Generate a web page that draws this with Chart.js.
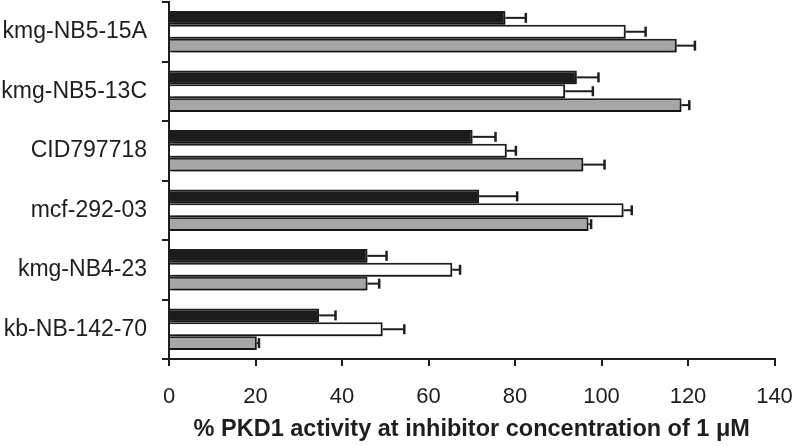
<!DOCTYPE html>
<html>
<head>
<meta charset="utf-8">
<script src="https://cdn.jsdelivr.net/npm/chart.js@4.4.0/dist/chart.umd.min.js"></script>
<style>
	html, body { margin: 0; padding: 0; background: #fff; }
	#wrap { width: 794px; height: 446px; position: relative; }
</style>
</head>
<body>
<div id="wrap"><canvas id="pkd1_chart"></canvas></div>
<script>
const categories = ['kmg-NB5-15A', 'kmg-NB5-13C', 'CID797718', 'mcf-292-03', 'kmg-NB4-23', 'kb-NB-142-70'];

const black_values = [77.8, 94.3, 70.2, 71.7, 45.9, 34.7];
const black_err = [4.7, 5.0, 5.3, 8.8, 4.4, 3.8];

const white_values = [105.6, 91.6, 78.1, 105.1, 65.5, 49.4];
const white_err = [4.6, 6.4, 2.1, 1.9, 1.8, 5.0];

const gray_values = [117.4, 118.5, 95.8, 97.0, 45.9, 20.3];
const gray_err = [4.2, 1.8, 4.9, 0.6, 2.7, 0.5];

const x_ticks = [0, 20, 40, 60, 80, 100, 120, 140];

const ink = '#1e1e1e';

// soft drop shadow under the bars
const shadowPlugin = {
	id: 'barShadow',
	beforeDatasetsDraw(chart) {
		const ctx = chart.ctx;
		ctx.save();
		ctx.shadowColor = 'rgba(0, 0, 0, 0.4)';
		ctx.shadowBlur = 5;
		ctx.shadowOffsetX = 2;
		ctx.shadowOffsetY = 4;
	},
	afterDatasetsDraw(chart) {
		chart.ctx.restore();
	}
};

// one-sided error bars with caps
const errorPlugin = {
	id: 'errorBars',
	afterDatasetsDraw(chart) {
		const ctx = chart.ctx;
		const xs = chart.scales.x;
		ctx.save();
		ctx.strokeStyle = ink;
		chart.data.datasets.forEach((ds, i) => {
			const meta = chart.getDatasetMeta(i);
			meta.data.forEach((bar, j) => {
				const end = xs.getPixelForValue(ds.data[j] + ds.errors[j]);
				ctx.lineWidth = 2;
				ctx.beginPath();
				ctx.moveTo(bar.x, bar.y);
				ctx.lineTo(end, bar.y);
				ctx.stroke();
				ctx.lineWidth = 2.5;
				ctx.beginPath();
				ctx.moveTo(end, bar.y - 5);
				ctx.lineTo(end, bar.y + 5);
				ctx.stroke();
			});
		});
		ctx.restore();
	}
};

const ctx = document.getElementById('pkd1_chart').getContext('2d');

const myChart = new Chart(ctx, {
	type: 'bar',
	data: {
		labels: categories,
		datasets: [{
			data: black_values,
			errors: black_err,
			backgroundColor: '#1c1c1c',
			borderColor: ink,
			borderWidth: 2
		}, {
			data: white_values,
			errors: white_err,
			backgroundColor: '#ffffff',
			borderColor: ink,
			borderWidth: 2
		}, {
			data: gray_values,
			errors: gray_err,
			backgroundColor: '#a6a6a6',
			borderColor: ink,
			borderWidth: 2
		}]
	},
	options: {
		indexAxis: 'y',
		responsive: true,
		maintainAspectRatio: false,
		animation: false,
		categoryPercentage: 0.7,
		barPercentage: 1.0,
		layout: {
			padding: { top: 2, right: 19.5, bottom: 0, left: 0 }
		},
		plugins: {
			legend: { display: false },
			tooltip: { enabled: false }
		},
		scales: {
			x: {
				min: 0,
				max: 140,
				afterBuildTicks: (scale) => {
					scale.ticks = x_ticks.map(v => ({ value: v }));
				},
				afterFit: (scale) => {
					scale.height = 87;
					scale.paddingLeft = 0;
					scale.paddingRight = 0;
				},
				border: { color: ink, width: 2 },
				grid: {
					drawOnChartArea: false,
					drawTicks: true,
					tickLength: 7,
					color: ink,
					lineWidth: 2
				},
				ticks: {
					color: ink,
					padding: 18,
					font: { family: 'Liberation Sans', size: 22 }
				},
				title: {
					display: true,
					text: '% PKD1 activity at inhibitor concentration of 1 μM',
					color: ink,
					padding: { top: 0, bottom: 2 },
					font: { family: 'Liberation Sans', size: 23.5, weight: 'bold' }
				}
			},
			y: {
				afterFit: (scale) => {
					scale.width = 169;
					scale.paddingTop = 0;
					scale.paddingBottom = 0;
				},
				border: { color: ink, width: 2 },
				grid: {
					drawOnChartArea: false,
					drawTicks: true,
					tickLength: 7,
					color: ink,
					lineWidth: 2
				},
				ticks: {
					color: ink,
					padding: 15,
					font: { family: 'Liberation Sans', size: 23 }
				}
			}
		}
	},
	plugins: [shadowPlugin, errorPlugin]
});
</script>
</body>
</html>
